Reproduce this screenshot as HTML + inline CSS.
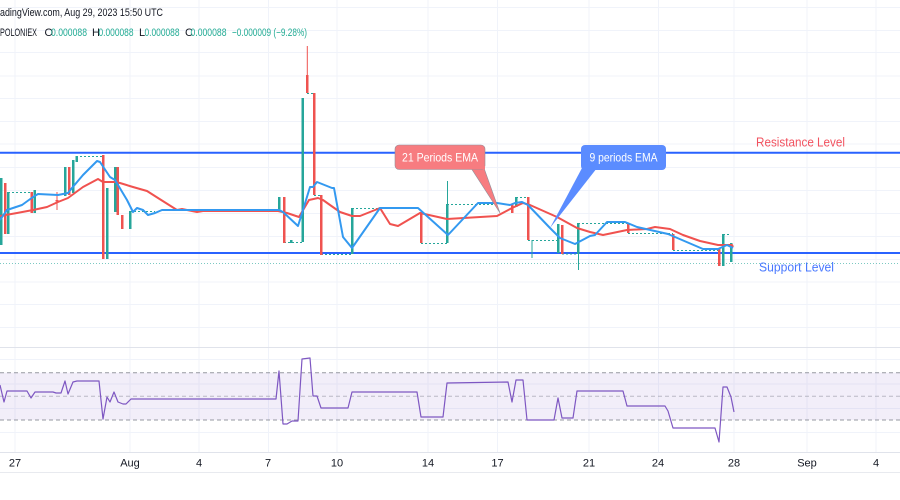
<!DOCTYPE html>
<html>
<head>
<meta charset="utf-8">
<style>
html,body{margin:0;padding:0;background:#fff;}
svg{display:block;}
text{font-family:"Liberation Sans",sans-serif;}
</style>
</head>
<body>
<svg width="900" height="500" viewBox="0 0 900 500" xmlns="http://www.w3.org/2000/svg">
<rect x="0" y="0" width="900" height="500" fill="#ffffff"/>
<!-- horizontal grid main -->
<g stroke="#f0f3fa" stroke-width="1">
<line x1="0" y1="7.5" x2="900" y2="7.5"/>
<line x1="0" y1="30.5" x2="900" y2="30.5"/>
<line x1="0" y1="52.5" x2="900" y2="52.5"/>
<line x1="0" y1="76" x2="900" y2="76"/>
<line x1="0" y1="98.5" x2="900" y2="98.5"/>
<line x1="0" y1="121.5" x2="900" y2="121.5"/>
<line x1="0" y1="144" x2="900" y2="144"/>
<line x1="0" y1="167.5" x2="900" y2="167.5"/>
<line x1="0" y1="190.5" x2="900" y2="190.5"/>
<line x1="0" y1="213.5" x2="900" y2="213.5"/>
<line x1="0" y1="236.5" x2="900" y2="236.5"/>
<line x1="0" y1="259.5" x2="900" y2="259.5"/>
<line x1="0" y1="282" x2="900" y2="282"/>
<line x1="0" y1="304.5" x2="900" y2="304.5"/>
<line x1="0" y1="327.5" x2="900" y2="327.5"/>
<line x1="0" y1="359.5" x2="900" y2="359.5"/>
<line x1="0" y1="384" x2="900" y2="384"/>
<line x1="0" y1="408.5" x2="900" y2="408.5"/>
<line x1="0" y1="432.5" x2="900" y2="432.5"/>
</g>
<!-- vertical grid -->
<g stroke="#f0f3fa" stroke-width="1">
<line x1="15" y1="0" x2="15" y2="452"/>
<line x1="130" y1="0" x2="130" y2="452"/>
<line x1="199" y1="0" x2="199" y2="452"/>
<line x1="268.5" y1="0" x2="268.5" y2="452"/>
<line x1="337" y1="0" x2="337" y2="452"/>
<line x1="428" y1="0" x2="428" y2="452"/>
<line x1="497.5" y1="0" x2="497.5" y2="452"/>
<line x1="589" y1="0" x2="589" y2="452"/>
<line x1="658.5" y1="0" x2="658.5" y2="452"/>
<line x1="734" y1="0" x2="734" y2="452"/>
<line x1="807" y1="0" x2="807" y2="452"/>
<line x1="876" y1="0" x2="876" y2="452"/>
</g>
<!-- pane separators / axis -->
<line x1="0" y1="347.5" x2="900" y2="347.5" stroke="#e0e3eb" stroke-width="1"/>
<line x1="0" y1="452.5" x2="900" y2="452.5" stroke="#e0e3eb" stroke-width="1"/>
<line x1="0" y1="472.5" x2="900" y2="472.5" stroke="#e8eaef" stroke-width="1"/>

<!-- header -->
<text x="0" y="16" font-size="11" fill="#131722" textLength="163" lengthAdjust="spacingAndGlyphs">adingView.com, Aug 29, 2023 15:50 UTC</text>
<g font-size="11">
<text x="0" y="36" fill="#131722" textLength="37" lengthAdjust="spacingAndGlyphs">POLONIEX</text>
<text x="44.5" y="36" fill="#131722">O</text>
<text x="51" y="36" fill="#22ab94" textLength="36" lengthAdjust="spacingAndGlyphs">0.000088</text>
<text x="92" y="36" fill="#131722">H</text>
<text x="98.5" y="36" fill="#22ab94" textLength="35" lengthAdjust="spacingAndGlyphs">0.000088</text>
<text x="139" y="36" fill="#131722">L</text>
<text x="144.5" y="36" fill="#22ab94" textLength="35" lengthAdjust="spacingAndGlyphs">0.000088</text>
<text x="185" y="36" fill="#131722">C</text>
<text x="190.5" y="36" fill="#22ab94" textLength="36" lengthAdjust="spacingAndGlyphs">0.000088</text>
<text x="232" y="36" fill="#22ab94" textLength="75" lengthAdjust="spacingAndGlyphs">−0.000009 (−9.28%)</text>
</g>

<!-- current price dotted line -->
<line x1="0" y1="263.5" x2="900" y2="263.5" stroke="#26a69a" stroke-width="1" stroke-dasharray="1 2" opacity="0.6"/>

<!-- support / resistance -->
<line x1="0" y1="152.7" x2="900" y2="152.7" stroke="#2962ff" stroke-width="2"/>
<line x1="0" y1="253" x2="900" y2="253" stroke="#2962ff" stroke-width="2"/>

<!-- dotted teal segments -->
<g stroke="#26a69a" stroke-width="1" stroke-dasharray="2 2" fill="none">
<line x1="8" y1="192.5" x2="32" y2="192.5"/>
<line x1="35" y1="194.5" x2="57" y2="194.5"/>
<line x1="76" y1="156.5" x2="102" y2="156.5"/>
<line x1="130" y1="211.5" x2="155" y2="211.5"/>
<line x1="284" y1="242.5" x2="303" y2="242.5"/>
<line x1="307" y1="93.5" x2="314" y2="93.5"/>
<line x1="314" y1="195.5" x2="321" y2="195.5"/>
<line x1="321" y1="254.5" x2="352" y2="254.5"/>
<line x1="352" y1="208.5" x2="381" y2="208.5"/>
<line x1="421" y1="243.5" x2="448" y2="243.5"/>
<line x1="447" y1="204.5" x2="497" y2="204.5"/>
<line x1="516" y1="197.5" x2="527" y2="197.5"/>
<line x1="528" y1="240.5" x2="557" y2="240.5"/>
<line x1="562" y1="254" x2="577" y2="254"/>
<line x1="578" y1="223.5" x2="628" y2="223.5"/>
<line x1="628" y1="233.5" x2="673" y2="233.5"/>
<line x1="673" y1="250.5" x2="720" y2="250.5"/>
<line x1="723" y1="234.5" x2="729" y2="234.5"/>
</g>

<!-- candles -->
<g>
<!-- green -->
<g fill="#26a69a">
<rect x="0" y="178" width="2.5" height="67"/>
<rect x="7" y="192" width="2.5" height="42"/>
<rect x="33.5" y="190" width="2.5" height="23"/>
<rect x="64" y="167" width="2.5" height="29"/>
<rect x="72" y="160" width="2.5" height="33"/>
<rect x="75.5" y="156" width="2.5" height="6"/>
<rect x="106" y="188" width="2.5" height="71"/>
<rect x="114" y="167" width="2.5" height="45"/>
<rect x="129" y="211" width="2.5" height="18"/>
<rect x="278" y="197" width="2.5" height="14"/>
<rect x="290" y="240" width="2.5" height="3"/>
<rect x="301.5" y="98" width="2.5" height="144"/>
<rect x="351" y="208" width="2.5" height="46"/>
<rect x="446" y="204" width="2.5" height="39"/>
<rect x="447" y="181" width="1" height="23"/>
<rect x="515" y="197" width="2.5" height="10"/>
<rect x="531.5" y="240" width="1" height="18"/>
<rect x="557" y="224" width="2.5" height="29"/>
<rect x="577" y="223" width="2.5" height="31"/>
<rect x="578" y="254" width="1" height="16"/>
<rect x="722" y="234" width="2.5" height="32"/>
<rect x="730" y="243" width="2.5" height="19"/>
</g>
<!-- red -->
<g fill="#ef5350">
<rect x="4" y="183" width="2.5" height="51"/>
<rect x="30.5" y="192" width="2.5" height="21"/>
<rect x="56.5" y="192" width="1" height="18"/>
<rect x="55.5" y="200" width="3" height="1.5"/>
<rect x="68" y="167" width="2.5" height="28"/>
<rect x="102" y="155" width="2.5" height="104"/>
<rect x="116.5" y="167" width="2.5" height="48"/>
<rect x="121" y="215" width="2.5" height="14"/>
<rect x="283" y="197" width="2.5" height="46"/>
<rect x="306" y="75" width="2.5" height="18"/>
<rect x="306.8" y="46" width="1" height="30"/>
<rect x="313" y="93" width="2.5" height="102"/>
<rect x="320" y="195" width="2.5" height="60"/>
<rect x="420" y="212" width="2.5" height="31"/>
<rect x="511" y="204" width="2.5" height="9"/>
<rect x="527" y="197" width="2.5" height="43"/>
<rect x="561" y="225" width="2.5" height="29"/>
<rect x="627" y="223" width="2.5" height="10"/>
<rect x="672" y="234" width="2.5" height="16"/>
<rect x="718" y="248" width="2.5" height="18"/>
</g>
</g>

<!-- EMA 21 (red) -->
<polyline fill="none" stroke="#f0524f" stroke-width="2" stroke-linejoin="round" points="0,216 17,213 33,210 47,207 58,202 68,198 83,187 98,179 103,182 115,182 120,183 133,187 147,191 158,198 177,210 182,209 192,211 197,212 203,211 278,211 287,213 299,217 309,200 318,198 323,200 330,205 340,212 352,216 360,216 380,208 390,224 398,226 420,213 447,219 497,216 512,208 523,203 530,205 557,217 577,228 590,232 603,235 627,230 647,229 655,227 670,229 683,235 700,241 718,245 732,245 733,247"/>
<!-- EMA 9 (blue) -->
<polyline fill="none" stroke="#3399f0" stroke-width="2" stroke-linejoin="round" points="0,220 7,210 22,205 33,197 38,194 58,195 68,193 72,188 83,175 97,161 100,162 110,177 115,180 127,200 133,212 137,208 143,210 148,215 155,213 162,210 279,210 283,212 298,226 303,210 310,187 313,187 317,182 332,188 334,188 343,237 352,248 380,208 418,208 448,235 478,203 497,203 510,205 515,203 522,202 528,205 550,228 560,238 575,244 590,236 595,235 607,222 625,222 637,227 668,234 703,249 718,249 727,245 733,248"/>

<!-- callouts -->
<polygon points="471,168 484,168 500,213" fill="#f77c80" stroke="#8f8f9a" stroke-width="0.6"/>
<rect x="395" y="145" width="90" height="24.5" rx="4" fill="#f77c80" stroke="#8f8f9a" stroke-width="0.6"/>
<rect x="470.5" y="166" width="14.5" height="3.2" fill="#f77c80"/>
<text x="440" y="161.5" font-size="12" fill="#ffffff" text-anchor="middle" textLength="76" lengthAdjust="spacingAndGlyphs">21 Periods EMA</text>

<polygon points="582,168 597,168 550,228" fill="#5b8cff"/>
<rect x="581" y="145" width="85" height="25" rx="4" fill="#5b8cff"/>
<text x="623.5" y="161.5" font-size="12" fill="#ffffff" text-anchor="middle" textLength="68" lengthAdjust="spacingAndGlyphs">9 periods EMA</text>

<!-- level labels -->
<text x="756" y="146.5" font-size="13" fill="#f2525f" textLength="89" lengthAdjust="spacingAndGlyphs">Resistance Level</text>
<text x="759" y="271.5" font-size="13" fill="#4878ff" textLength="75" lengthAdjust="spacingAndGlyphs">Support Level</text>

<!-- RSI pane -->
<rect x="0" y="372.7" width="900" height="47.3" fill="#7e57c2" fill-opacity="0.1"/>
<g stroke="#9598a1" stroke-width="1" stroke-dasharray="4 3">
<line x1="0" y1="372.7" x2="900" y2="372.7"/>
<line x1="0" y1="396.3" x2="900" y2="396.3" stroke-opacity="0.6"/>
<line x1="0" y1="420" x2="900" y2="420"/>
</g>
<polyline fill="none" stroke="#7e57c2" stroke-width="1.2" stroke-linejoin="round" points="0,385 4,402 7,391 27,391 31,398 35,392 53,392 56,393 61,393 65,381 68,394 73,382 77,381 99,381 103,419 107,397 110,402 114,392 118,402 123,404 126,404 131,399 276,399 279,371 283,424 287,424 292,421 298,421 302,359 310,358 313,396 317,396 321,408 348,408 352,392 417,392 421,417 443,417 447,383 508,382 512,402 516,380 523,380 527,420 554,420 558,398 562,418 573,418 577,391 623,391 627,406 665,406 668,411 673,428 715,428 719,442 723,387 727,387 731,397 734,412"/>

<!-- x axis labels -->
<g font-size="11" fill="#131722" text-anchor="middle">
<text x="15" y="466.5">27</text>
<text x="130" y="466.5">Aug</text>
<text x="199" y="466.5">4</text>
<text x="268" y="466.5">7</text>
<text x="337" y="466.5">10</text>
<text x="428" y="466.5">14</text>
<text x="497.5" y="466.5">17</text>
<text x="589" y="466.5">21</text>
<text x="658" y="466.5">24</text>
<text x="734" y="466.5">28</text>
<text x="807" y="466.5">Sep</text>
<text x="876" y="466.5">4</text>
</g>
</svg>
</body>
</html>
